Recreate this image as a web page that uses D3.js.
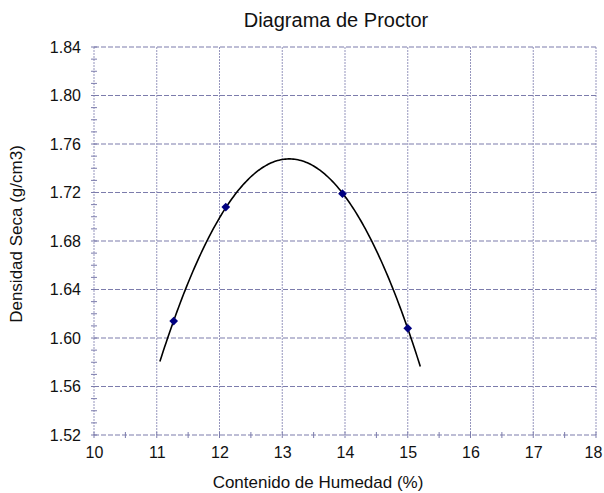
<!DOCTYPE html>
<html><head><meta charset="utf-8">
<script src="https://cdn.jsdelivr.net/npm/d3@7"></script>
<style>body{margin:0;background:#fff}svg{display:block}text{font-family:"Liberation Sans",Arial,sans-serif;fill:#111}</style>
</head><body><svg id="c" width="604" height="493"></svg>
<script>
const humedad = [11.27, 12.1, 13.96, 15.0];
const densidad = [1.614, 1.708, 1.719, 1.608];
const xTicks = [10, 11, 12, 13, 14, 15, 16, 17, 18];
const yTicks = [1.52, 1.56, 1.60, 1.64, 1.68, 1.72, 1.76, 1.80, 1.84];
const trendRange = [11.05, 15.2];

const svg = d3.select("#c");
const m = {l: 94, r: 596, t: 47, b: 435};
const x = d3.scaleLinear().domain([10, 18]).range([m.l, m.r]);
const y = d3.scaleLinear().domain([1.52, 1.84]).range([m.b, m.t]);
const grid = "#7c7cac";

// grid
svg.append("g").selectAll("line").data(yTicks).join("line")
  .attr("x1", m.l).attr("x2", m.r).attr("y1", d => y(d)).attr("y2", d => y(d))
  .attr("stroke", grid).attr("stroke-width", 1.2).attr("stroke-dasharray", "5,2");
svg.append("g").selectAll("line").data(xTicks).join("line")
  .attr("y1", m.t).attr("y2", m.b).attr("x1", d => x(d)).attr("x2", d => x(d))
  .attr("stroke", grid).attr("stroke-width", 1).attr("stroke-opacity", 0.8).attr("stroke-dasharray", "2,1");

// minor ticks
const yMinor = d3.range(1.52, 1.8401, 0.01);
svg.append("g").selectAll("line").data(yMinor).join("line")
  .attr("x1", m.l - 3).attr("x2", m.l + 3).attr("y1", d => y(d)).attr("y2", d => y(d))
  .attr("stroke", grid).attr("stroke-width", 1);
const xMinor = d3.range(10, 18.01, 0.5);
svg.append("g").selectAll("line").data(xMinor).join("line")
  .attr("y1", m.b - 3).attr("y2", m.b + 3).attr("x1", d => x(d)).attr("x2", d => x(d))
  .attr("stroke", grid).attr("stroke-width", 1);

// axes labels via d3 axes
const ax = svg.append("g").attr("transform", `translate(0,${m.b})`)
  .call(d3.axisBottom(x).tickValues(xTicks).tickSize(0).tickPadding(12).tickFormat(d3.format("d")));
const ay = svg.append("g").attr("transform", `translate(${m.l},0)`)
  .call(d3.axisLeft(y).tickValues(yTicks).tickSize(0).tickPadding(13).tickFormat(d3.format(".2f")));
[ax, ay].forEach(g => { g.select(".domain").remove(); g.selectAll("text").style("font-size", "16px").attr("fill", "#111"); });
ax.selectAll(".tick").filter(d => d === 18).select("text").attr("dx", "-3");

// trendline: least-squares quadratic fit of the data
function polyfit2(xs, ys) {
  const n = xs.length; let S = [0,0,0,0,0], T = [0,0,0];
  for (let i = 0; i < n; i++) { let p = 1; for (let k = 0; k < 5; k++) { S[k] += p; if (k < 3) T[k] += p * ys[i]; p *= xs[i]; } }
  const A = [[S[0],S[1],S[2],T[0]],[S[1],S[2],S[3],T[1]],[S[2],S[3],S[4],T[2]]];
  for (let i = 0; i < 3; i++) { for (let j = i+1; j < 3; j++) { const f = A[j][i]/A[i][i]; for (let k = i; k < 4; k++) A[j][k] -= f*A[i][k]; } }
  const c = [0,0,0];
  for (let i = 2; i >= 0; i--) { let s = A[i][3]; for (let k = i+1; k < 3; k++) s -= A[i][k]*c[k]; c[i] = s/A[i][i]; }
  return c;
}
const c = polyfit2(humedad, densidad);
const xs = d3.range(trendRange[0], trendRange[1] + 1e-9, 0.025);
svg.append("path").datum(xs)
  .attr("d", d3.line().x(d => x(d)).y(d => y(c[0] + c[1]*d + c[2]*d*d)))
  .attr("fill", "none").attr("stroke", "#000").attr("stroke-width", 1.6);

// markers
svg.append("g").selectAll("path").data(humedad).join("path")
  .attr("d", d3.symbol(d3.symbolSquare, 38))
  .attr("transform", (d, i) => `translate(${x(d)},${y(densidad[i])}) rotate(45)`)
  .attr("fill", "#000080");

// titles
svg.append("text").attr("x", 336).attr("y", 27).attr("text-anchor", "middle").style("font-size", "20px").text("Diagrama de Proctor");
svg.append("text").attr("x", 318).attr("y", 488).attr("text-anchor", "middle").style("font-size", "17px").text("Contenido de Humedad (%)");
svg.append("text").attr("transform", "translate(22,234) rotate(-90)").attr("text-anchor", "middle").style("font-size", "17px").text("Densidad Seca (g/cm3)");
</script></body></html>
